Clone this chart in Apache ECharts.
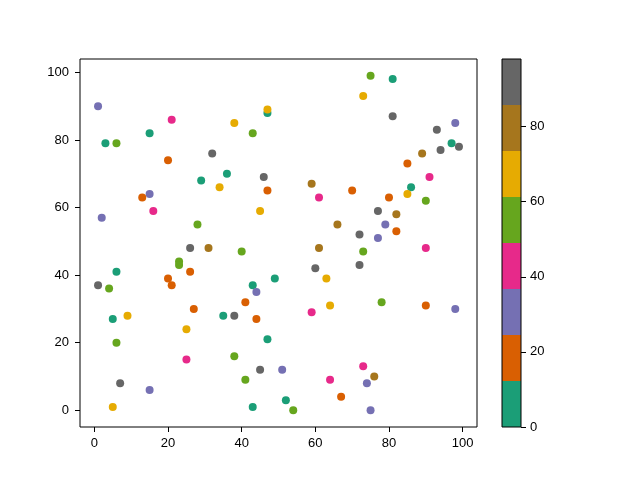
<!DOCTYPE html>
<html>
<head>
<meta charset="utf-8">
<script src="https://cdn.jsdelivr.net/npm/echarts@6/dist/echarts.min.js"></script>
<style>
  html, body { margin: 0; padding: 0; background: #fff; }
  #main { width: 640px; height: 480px; }
</style>
</head>
<body>
<div id="main"></div>
<script>
// point positions and colour values
var xs = [1, 3, 6, 15, 21, 32, 20, 38, 43, 47, 47, 36, 29, 34, 46, 47, 15, 13, 16, 45, 2, 28,
          75, 81, 73, 81, 93, 98, 97, 99, 94, 89, 85, 91, 86, 85, 90, 59, 61, 70, 80, 77, 82, 79, 66, 82, 72, 77, 61, 90,
          73, 60, 72, 63, 49, 78, 64, 90, 98, 59, 51, 73, 76, 64, 74, 67, 52, 54, 75,
          26, 31, 40, 23, 23, 6, 26, 20, 21, 1, 4, 43, 44, 41, 27, 35, 38, 44, 5, 9, 25, 47, 6, 25, 38, 45, 7, 41, 15, 5, 43];
var ys = [90, 79, 79, 82, 86, 76, 74, 85, 82, 88, 89, 70, 68, 66, 69, 65, 64, 63, 59, 59, 57, 55,
          99, 98, 93, 87, 83, 85, 79, 78, 77, 76, 73, 69, 66, 64, 62, 67, 63, 65, 63, 59, 58, 55, 55, 53, 52, 51, 48, 48,
          47, 42, 43, 39, 39, 32, 31, 31, 30, 29, 12, 13, 10, 9, 8, 4, 3, 0, 0,
          48, 48, 47, 44, 43, 41, 41, 39, 37, 37, 36, 37, 35, 32, 30, 28, 28, 27, 27, 28, 24, 21, 20, 15, 16, 12, 8, 9, 6, 1, 1];
var cs = [30, 6, 55, 6, 43, 92, 18, 67, 55, 6, 67, 6, 6, 67, 92, 18, 30, 18, 43, 67, 30, 55,
          55, 6, 67, 92, 92, 30, 6, 92, 92, 79, 18, 43, 6, 67, 55, 79, 43, 18, 18, 92, 79, 30, 79, 18, 92, 30, 79, 43,
          55, 92, 92, 67, 6, 55, 67, 18, 30, 43, 30, 43, 79, 43, 30, 18, 6, 55, 30,
          92, 79, 55, 55, 55, 6, 18, 18, 18, 92, 55, 6, 30, 18, 18, 6, 92, 18, 6, 67, 67, 6, 55, 43, 55, 92, 92, 55, 30, 67, 6];

// Dark2 colormap, colorbar range and ticks
var palette = ['#1b9e77', '#d95f02', '#7570b3', '#e7298a', '#66a61e', '#e6ab02', '#a6761d', '#666666'];
var cMin = 0, cMax = 98;
var xTicks = [0, 20, 40, 60, 80, 100];
var yTicks = [0, 20, 40, 60, 80, 100];
var cTicks = [0, 20, 40, 60, 80];

var step = (cMax - cMin) / palette.length;
var pieces = palette.map(function(col, i) {
    return { gte: cMin + i * step, lt: cMin + (i + 1) * step, color: col };
});
pieces[pieces.length - 1].lte = cMax;
delete pieces[pieces.length - 1].lt;

var points = xs.map(function(x, i) { return [x, ys[i], cs[i]]; });

var font = { color: '#000', fontSize: 13, fontFamily: 'Liberation Sans' };

var myChart = echarts.init(document.getElementById('main'));

var barSeries = palette.map(function(col, i) {
    return {
        type: 'bar',
        xAxisIndex: 1,
        yAxisIndex: 1,
        stack: 'cbar',
        barWidth: '100%',
        silent: true,
        z: 1,
        itemStyle: { color: col },
        data: [step]
    };
});

var option = {
    animation: false,
    backgroundColor: '#fff',
    grid: [
        { left: 80, top: 59, width: 397, height: 368, show: true, borderColor: '#000', borderWidth: 1, z: 10 },
        { left: 502, top: 59, width: 19, height: 368, show: true, borderColor: '#000', borderWidth: 1, z: 10 }
    ],
    xAxis: [{
        type: 'value', gridIndex: 0, min: -3.9, max: 103.9,
        splitLine: { show: false },
        axisLine: { show: false, onZero: false },
        axisTick: { show: true, length: 5, lineStyle: { color: '#000' }, customValues: xTicks },
        axisLabel: Object.assign({ margin: 10, customValues: xTicks }, font)
    }, {
        type: 'category', gridIndex: 1, data: [''],
        show: false
    }],
    yAxis: [{
        type: 'value', gridIndex: 0, min: -4.95, max: 103.95,
        splitLine: { show: false },
        axisLine: { show: false, onZero: false },
        axisTick: { show: true, length: 5, lineStyle: { color: '#000' }, customValues: yTicks },
        axisLabel: Object.assign({ margin: 11, customValues: yTicks }, font)
    }, {
        type: 'value', gridIndex: 1, min: cMin, max: cMax, position: 'right',
        splitLine: { show: false },
        axisLine: { show: false, onZero: false },
        axisTick: { show: true, length: 5, lineStyle: { color: '#000' }, customValues: cTicks },
        axisLabel: Object.assign({ margin: 9, customValues: cTicks }, font)
    }],
    visualMap: {
        type: 'piecewise',
        show: false,
        dimension: 2,
        seriesIndex: 0,
        pieces: pieces
    },
    series: [{
        type: 'scatter',
        xAxisIndex: 0,
        yAxisIndex: 0,
        symbolSize: 8,
        itemStyle: { opacity: 1 },
        data: points
    }].concat(barSeries)
};

myChart.setOption(option);
</script>
</body>
</html>
